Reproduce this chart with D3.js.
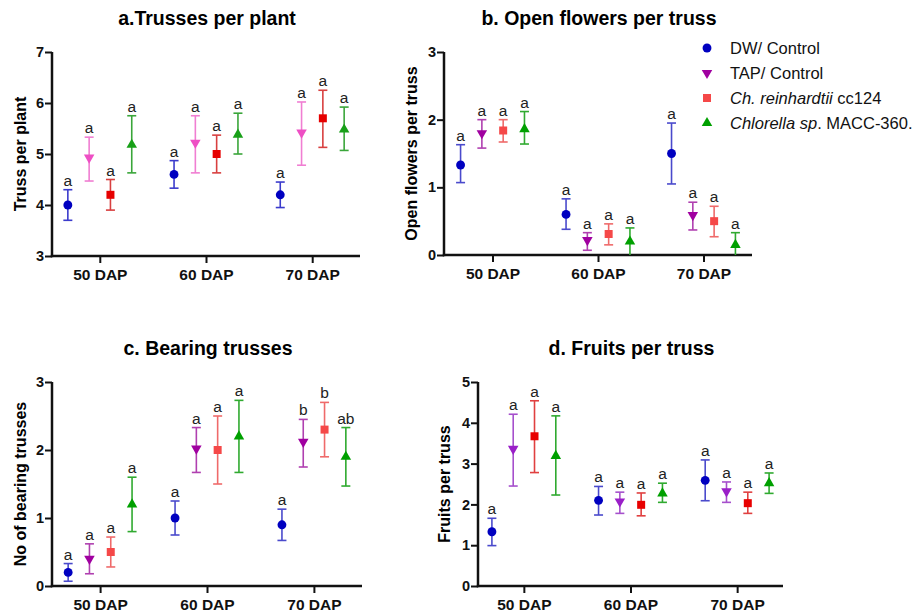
<!DOCTYPE html>
<html>
<head>
<meta charset="utf-8">
<script src="https://cdn.jsdelivr.net/npm/d3@7"></script>
<style>
  body { margin: 0; background: #fff; }
  svg { font-family: "Liberation Sans", Arial, sans-serif; }
</style>
</head>
<body>
<svg id="chart" width="914" height="615"></svg>
<script>
const groups = ["50 DAP", "60 DAP", "70 DAP"];
const series = ["DW", "TAP", "cc124", "Chlorella"];

// a. trusses per plant  (rows = series, cols = groups)
const trussMean = [[4.0, 4.6, 4.2], [4.93, 5.22, 5.42], [4.2, 5.0, 5.7], [5.18, 5.38, 5.48]];
const trussLow  = [[3.7, 4.33, 3.95], [4.47, 4.63, 4.78], [3.9, 4.63, 5.13], [4.63, 5.0, 5.07]];
const trussHigh = [[4.3, 4.87, 4.45], [5.33, 5.75, 6.02], [4.5, 5.37, 6.25], [5.75, 5.8, 5.92]];
const trussLetters = [["a", "a", "a"], ["a", "a", "a"], ["a", "a", "a"], ["a", "a", "a"]];

// b. open flowers per truss
const flowerMean = [[1.33, 0.6, 1.5], [1.8, 0.22, 0.59], [1.84, 0.31, 0.5], [1.86, 0.2, 0.15]];
const flowerLow  = [[1.07, 0.38, 1.05], [1.58, 0.07, 0.37], [1.67, 0.15, 0.27], [1.64, 0, 0]];
const flowerHigh = [[1.63, 0.83, 1.95], [2.0, 0.33, 0.78], [2.0, 0.46, 0.72], [2.12, 0.4, 0.33]];
const flowerLetters = [["a", "a", "a"], ["a", "a", "a"], ["a", "a", "a"], ["a", "a", "a"]];

// c. bearing trusses
const bearMean = [[0.2, 1.0, 0.9], [0.4, 2.02, 2.12], [0.5, 2.0, 2.3], [1.2, 2.2, 1.9]];
const bearLow  = [[0.07, 0.75, 0.67], [0.18, 1.67, 1.75], [0.28, 1.5, 1.9], [0.8, 1.67, 1.47]];
const bearHigh = [[0.33, 1.25, 1.13], [0.62, 2.33, 2.45], [0.72, 2.5, 2.7], [1.6, 2.73, 2.33]];
const bearLetters = [["a", "a", "a"], ["a", "a", "b"], ["a", "a", "b"], ["a", "a", "ab"]];

// d. fruits per truss
const fruitMean = [[1.33, 2.1, 2.59], [3.36, 2.07, 2.32], [3.67, 1.99, 2.03], [3.19, 2.27, 2.52]];
const fruitLow  = [[0.99, 1.74, 2.09], [2.45, 1.78, 2.05], [2.78, 1.72, 1.78], [2.23, 2.05, 2.27]];
const fruitHigh = [[1.66, 2.44, 3.09], [4.21, 2.3, 2.55], [4.54, 2.28, 2.3], [4.17, 2.52, 2.77]];
const fruitLetters = [["a", "a", "a"], ["a", "a", "a"], ["a", "a", "a"], ["a", "a", "a"]];

const svg = d3.select("#chart");

const shapes = [
  { type: d3.symbolCircle, size: 62, rot: 0 },
  { type: d3.symbolTriangle, size: 48, rot: 180 },
  { type: d3.symbolSquare, size: 64, rot: 0 },
  { type: d3.symbolTriangle, size: 48, rot: 0 }
];

const panels = [
  { title: "a.Trusses per plant", ylab: "Truss per plant", domain: [3, 7], ticks: [3, 4, 5, 6, 7],
    x0: 52, x1: 360, y0: 256, y1: 52, ylabX: 20, pad: 0.45,
    mean: trussMean, low: trussLow, high: trussHigh, letters: trussLetters,
    fill: ["#0000c0", "#ee4fc4", "#e60000", "#18a018"],
    bar: ["#3b3bcc", "#f07ed2", "#d84040", "#3aa63a"] },
  { title: "b. Open flowers per truss", ylab: "Open flowers per truss", domain: [0, 3], ticks: [0, 1, 2, 3],
    x0: 444, x1: 752, y0: 255, y1: 52, ylabX: 411, pad: 0.46,
    mean: flowerMean, low: flowerLow, high: flowerHigh, letters: flowerLetters,
    fill: ["#0000c0", "#a000a0", "#f54848", "#00a000"],
    bar: ["#4a4acc", "#b040b0", "#ef6a6a", "#30aa30"] },
  { title: "c. Bearing trusses", ylab: "No of bearing trusses", domain: [0, 3], ticks: [0, 1, 2, 3],
    x0: 52, x1: 362, y0: 586, y1: 382, ylabX: 20, pad: 0.45,
    mean: bearMean, low: bearLow, high: bearHigh, letters: bearLetters,
    fill: ["#0000c0", "#a000a0", "#f54848", "#00a000"],
    bar: ["#4a4acc", "#b040b0", "#ef6a6a", "#30aa30"] },
  { title: "d. Fruits per truss", ylab: "Fruits per truss", domain: [0, 5], ticks: [0, 1, 2, 3, 4, 5],
    x0: 478, x1: 783, y0: 586, y1: 382, ylabX: 444, pad: 0.43,
    mean: fruitMean, low: fruitLow, high: fruitHigh, letters: fruitLetters,
    fill: ["#0000c0", "#9a1fc8", "#e80000", "#00a000"],
    bar: ["#4a4acc", "#a650cc", "#e04040", "#30aa30"] }
];

const inner = d3.scaleBand().domain(series).range([-42.6, 42.6]);
const off = s => inner(s) + inner.bandwidth() / 2;

panels.forEach(p => {
  const x = d3.scalePoint().domain(groups).range([p.x0, p.x1]).padding(p.pad);
  const y = d3.scaleLinear().domain(p.domain).range([p.y0, p.y1]);
  const g = svg.append("g");

  // title
  g.append("text")
    .attr("x", (p.x0 + p.x1) / 2 + 1)
    .attr("y", p.y1 - 27)
    .attr("text-anchor", "middle")
    .attr("font-size", 19.5)
    .attr("font-weight", "bold")
    .text(p.title);

  // axes
  const yAxis = g.append("g")
    .attr("transform", "translate(" + p.x0 + ",0)")
    .call(d3.axisLeft(y).tickValues(p.ticks).tickFormat(d3.format("d")).tickSizeOuter(0).tickSize(7));
  const xAxis = g.append("g")
    .attr("transform", "translate(0," + p.y0 + ")")
    .call(d3.axisBottom(x).tickSizeOuter(0).tickSize(7));

  [yAxis, xAxis].forEach(ax => {
    ax.select(".domain").attr("stroke", "#111").attr("stroke-width", 2.5);
    ax.selectAll(".tick line").attr("stroke", "#111").attr("stroke-width", 2);
    ax.selectAll(".tick text").attr("fill", "#111").attr("font-weight", "bold")
      .attr("font-family", "Liberation Sans, Arial, sans-serif");
  });
  yAxis.selectAll(".tick text").attr("font-size", 14.5).attr("x", -8);
  xAxis.selectAll(".tick text").attr("font-size", 15.5).attr("dy", "0.92em");
  // axis lines meet at the corner
  yAxis.select(".domain").attr("d", "M0," + (p.y0 + 1.2) + "V" + p.y1);
  xAxis.select(".domain").attr("d", "M" + (p.x0 - 1.2) + ",0H" + p.x1);

  // y label
  g.append("text")
    .attr("transform", "translate(" + p.ylabX + "," + ((p.y0 + p.y1) / 2) + ") rotate(-90)")
    .attr("text-anchor", "middle")
    .attr("dy", "0.35em")
    .attr("font-size", 16)
    .attr("font-weight", "bold")
    .text(p.ylab);

  // error bars + markers
  series.forEach((s, si) => {
    const pts = groups.map((grp, gi) => ({
      grp, gi, m: p.mean[si][gi], lo: p.low[si][gi], hi: p.high[si][gi], lt: p.letters[si][gi]
    }));
    const cx = d => x(d.grp) + off(s);

    const bars = g.append("g").attr("stroke", p.bar[si]).attr("stroke-width", 1.6);
    bars.selectAll(".v").data(pts).enter().append("line")
      .attr("x1", cx).attr("x2", cx)
      .attr("y1", d => y(d.lo)).attr("y2", d => y(d.hi));
    bars.selectAll(".ct").data(pts).enter().append("line")
      .attr("x1", d => cx(d) - 4.5).attr("x2", d => cx(d) + 4.5)
      .attr("y1", d => y(d.hi)).attr("y2", d => y(d.hi));
    bars.selectAll(".cb").data(pts.filter(d => d.lo > p.domain[0])).enter().append("line")
      .attr("x1", d => cx(d) - 4.5).attr("x2", d => cx(d) + 4.5)
      .attr("y1", d => y(d.lo)).attr("y2", d => y(d.lo));

    const sym = d3.symbol().type(shapes[si].type).size(shapes[si].size);
    g.selectAll(".m" + si).data(pts).enter().append("path")
      .attr("d", sym)
      .attr("fill", p.fill[si])
      .attr("transform", d => "translate(" + cx(d) + "," + y(d.m) + ") rotate(" + shapes[si].rot + ")");

    g.selectAll(".l" + si).data(pts).enter().append("text")
      .attr("x", cx)
      .attr("y", d => y(d.hi) - 4)
      .attr("text-anchor", "middle")
      .attr("font-size", 15.5)
      .attr("fill", "#222")
      .text(d => d.lt);
  });
});

// legend
const legendItems = [
  { it: "", rest: "DW/ Control" },
  { it: "", rest: "TAP/ Control" },
  { it: "Ch. reinhardtii", rest: " cc124" },
  { it: "Chlorella sp", rest: ". MACC-360." }
];
const legendFill = ["#0000c0", "#a000a0", "#f54848", "#00a000"];
const legend = svg.append("g");
legendItems.forEach((item, i) => {
  const ly = 48 + i * 25;
  legend.append("path")
    .attr("d", d3.symbol().type(shapes[i].type).size(shapes[i].size)())
    .attr("fill", legendFill[i])
    .attr("transform", "translate(707," + ly + ") rotate(" + shapes[i].rot + ")");
  const t = legend.append("text")
    .attr("x", 730).attr("y", ly).attr("dy", "0.36em")
    .attr("font-size", 16.5).attr("fill", "#111");
  if (item.it) t.append("tspan").attr("font-style", "italic").text(item.it);
  t.append("tspan").text(item.rest);
});
</script>
</body>
</html>
